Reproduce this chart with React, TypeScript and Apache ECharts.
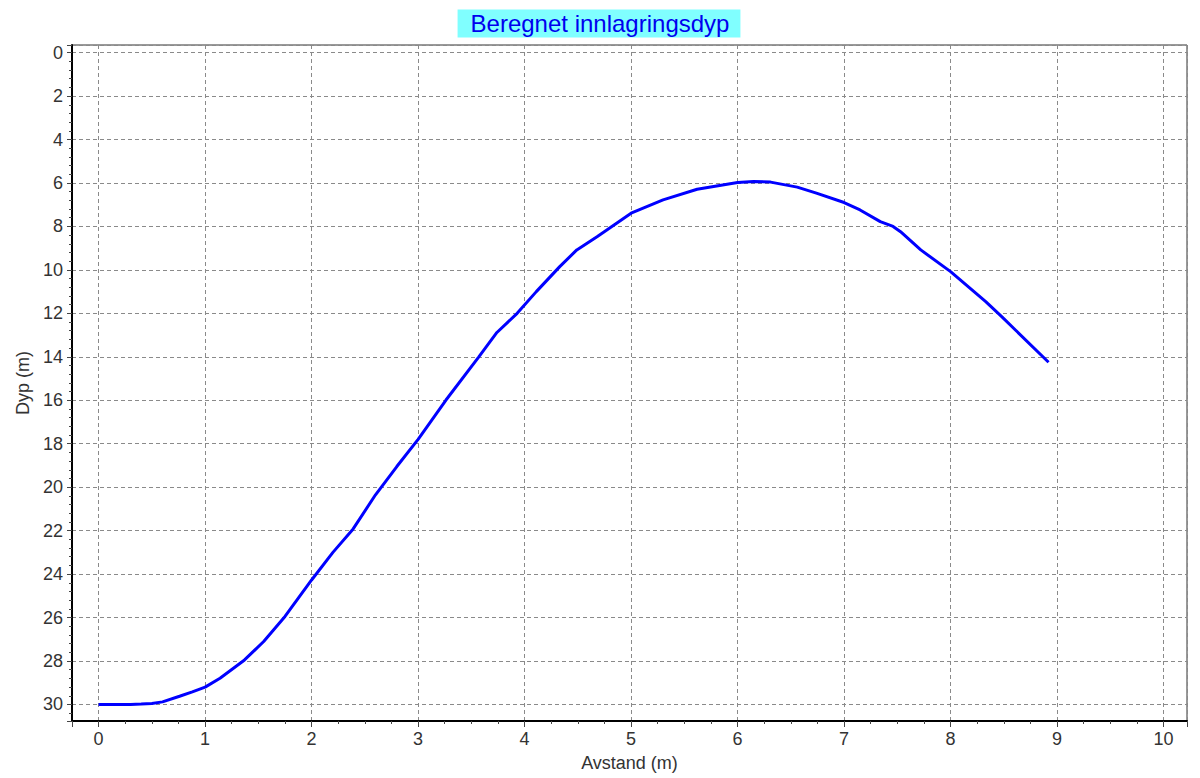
import React, { useEffect, useRef } from "react";
import * as echarts from "echarts";

const distance: number[] = [
  0, 0.1, 0.2, 0.3, 0.4, 0.5, 0.6, 0.76, 0.88, 1.0, 1.14, 1.37, 1.55, 1.75, 2.0, 2.2, 2.39, 2.6,
  2.8, 3.0, 3.26, 3.57, 3.74, 3.93, 4.11, 4.33, 4.49, 4.68, 5.0, 5.3, 5.62, 6.0, 6.15, 6.31, 6.56,
  6.74, 7.0, 7.15, 7.34, 7.46, 7.53, 7.72, 8.0, 8.33, 8.48, 8.92,
];
const depth: number[] = [
  30.0, 30.0, 30.0, 30.0, 29.98, 29.95, 29.88, 29.62, 29.42, 29.2, 28.79, 27.95, 27.1, 25.95, 24.27,
  23.0, 21.92, 20.35, 19.05, 17.8, 16.0, 14.0, 12.88, 12.0, 11.0, 9.85, 9.08, 8.47, 7.39, 6.78,
  6.29, 5.98, 5.93, 5.96, 6.19, 6.47, 6.9, 7.24, 7.78, 8.0, 8.24, 9.08, 10.08, 11.46, 12.15, 14.25,
];

const titleText = "Beregnet innlagringsdyp";
const xName = "Avstand (m)";
const yName = "Dyp (m)";

export default function App() {
  const ref = useRef<HTMLDivElement>(null);
  useEffect(() => {
    if (!ref.current) return;
    const chart = echarts.init(ref.current, undefined, { renderer: "svg" });
    const font = "'Liberation Sans', Arial, sans-serif";
    const splitLine = { show: true, lineStyle: { color: "#8a8a8a", type: [4, 3] as any, width: 1 } };
    chart.setOption({
      animation: false,
      backgroundColor: "#ffffff",
      title: {
        text: titleText,
        left: "center",
        top: 10,
        backgroundColor: "#80ffff",
        padding: [2, 11, 2, 13],
        textStyle: { color: "#0000ee", fontSize: 24, fontWeight: "normal", fontFamily: font, lineHeight: 23 },
      },
      grid: {
        left: 72,
        right: 13,
        top: 45,
        bottom: 57,
        show: true,
        borderColor: "#333",
        borderWidth: 1,
        containLabel: false,
      },
      xAxis: {
        type: "value",
        min: -0.25,
        max: 10.22,
        splitNumber: 10,
        minInterval: 1,
        maxInterval: 1,
        name: xName,
        nameLocation: "middle",
        nameGap: 33,
        nameTextStyle: { color: "#333", fontSize: 18, fontFamily: font },
        axisLine: { show: true, onZero: false, lineStyle: { color: "#000", width: 2 } },
        axisTick: { show: true, inside: false, length: 6, lineStyle: { color: "#444" } },
        minorTick: { show: true, splitNumber: 4, length: 3, lineStyle: { color: "#444" } },
        axisLabel: { color: "#333", fontSize: 18, fontFamily: font, margin: 9, showMinLabel: false, showMaxLabel: false },
        splitLine,
      },
      yAxis: {
        type: "value",
        inverse: true,
        min: -0.35,
        max: 30.76,
        splitNumber: 15,
        minInterval: 2,
        maxInterval: 2,
        name: yName,
        nameLocation: "middle",
        nameGap: 38,
        nameTextStyle: { color: "#333", fontSize: 18, fontFamily: font },
        axisLine: { show: true, onZero: false, lineStyle: { color: "#000", width: 2 } },
        axisTick: { show: true, inside: false, length: 5, lineStyle: { color: "#444" } },
        minorTick: { show: true, splitNumber: 5, length: 3, lineStyle: { color: "#444" } },
        axisLabel: { color: "#333", fontSize: 18, fontFamily: font, margin: 9, showMinLabel: false, showMaxLabel: false },
        splitLine,
      },
      series: [
        {
          type: "line",
          data: distance.map((d, i) => [d, depth[i]]),
          symbol: "none",
          smooth: false,
          lineStyle: { color: "#0000ff", width: 3 },
        },
      ],
    });
    return () => chart.dispose();
  }, []);
  return (
    <div
      ref={ref}
      style={{ position: "fixed", left: 0, top: 0, width: 1200, height: 778, background: "#fff" }}
    />
  );
}
